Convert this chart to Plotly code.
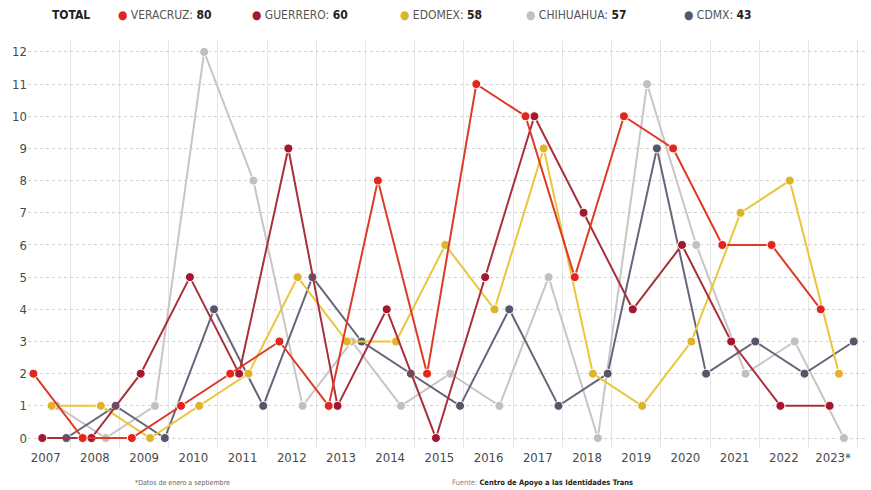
import plotly.graph_objects as go

years = list(range(2007, 2024))
year_labels = [str(y) for y in years[:-1]] + ["2023*"]

series_names = ["VERACRUZ", "GUERRERO", "EDOMEX", "CHIHUAHUA", "CDMX"]
veracruz = [2, 0, 0, 1, 2, 3, 1, 8, 2, 11, 10, 5, 10, 9, 6, 6, 4]
guerrero = [0, 0, 2, 5, 2, 9, 1, 4, 0, 5, 10, 7, 4, 6, 3, 1, 1]
edomex = [1, 1, 0, 1, 2, 5, 3, 3, 6, 4, 9, 2, 1, 3, 7, 8, 2]
chihuahua = [1, 0, 1, 12, 8, 1, 3, 1, 2, 1, 5, 0, 11, 6, 2, 3, 0]
cdmx = [0, 1, 0, 4, 1, 5, 3, 2, 1, 4, 1, 2, 9, 2, 3, 2, 3]

values = {"VERACRUZ": veracruz, "GUERRERO": guerrero, "EDOMEX": edomex,
          "CHIHUAHUA": chihuahua, "CDMX": cdmx}

# style: marker colour, line colour, horizontal offset within the year band
styles = {
    "VERACRUZ": dict(marker="#e3261c", line="#de3a26", off=-0.25),
    "GUERRERO": dict(marker="#a3172f", line="#a8303c", off=-0.07),
    "EDOMEX": dict(marker="#e0b42a", line="#e9c63c", off=0.12),
    "CHIHUAHUA": dict(marker="#c4bfbf", line="#c9c5c5", off=0.22),
    "CDMX": dict(marker="#56566a", line="#66667a", off=0.42),
}

draw_order = ["CHIHUAHUA", "CDMX", "EDOMEX", "GUERRERO", "VERACRUZ"]

fig = go.Figure()
for name in draw_order:
    st = styles[name]
    fig.add_trace(go.Scatter(
        x=[y + st["off"] for y in years], y=values[name],
        mode="lines+markers", name=name, showlegend=False,
        line=dict(color=st["line"], width=2),
        marker=dict(color=st["marker"], size=9, line=dict(color="white", width=1)),
    ))

font_family = "Liberation Sans Narrow, DejaVu Sans Condensed, Roboto, Arial, sans-serif"

ML, MR, MT, MB = 28, 3, 40, 42
W, H = 871, 490

fig.update_layout(
    width=W, height=H,
    margin=dict(l=ML, r=MR, t=MT, b=MB, autoexpand=False),
    plot_bgcolor="white", paper_bgcolor="white",
    font=dict(family=font_family, color="#4a4a4a", size=13),
    xaxis=dict(
        range=[2006.64, 2023.71], automargin=False,
        tickmode="array", tickvals=years, ticktext=year_labels,
        showgrid=False, zeroline=False, showline=False, ticks="",
        tickfont=dict(size=13, color="#4a4a4a"),
        minor=dict(tickmode="array", tickvals=[y + 0.5 for y in years],
                   showgrid=True, gridcolor="#e6e6e6", gridwidth=1, ticks=""),
    ),
    yaxis=dict(
        range=[-0.31, 12.37], tickmode="linear", tick0=0, dtick=1, automargin=False,
        showgrid=True, gridcolor="#d2d2d2", griddash="dot", gridwidth=1,
        zeroline=False, showline=False, ticks="",
        tickfont=dict(size=13, color="#4a4a4a"),
    ),
)

pw, ph = W - ML - MR, H - MT - MB


def px_to_paper(x, y_from_top):
    return (x - ML) / pw, ((H - y_from_top) - MB) / ph


annotations = []
x0, y0 = px_to_paper(50, 15)
annotations.append(dict(x=x0, y=y0, xref="paper", yref="paper", text="<b>TOTAL</b>",
                        showarrow=False, xanchor="left", yanchor="middle",
                        font=dict(size=12, color="#222222")))
legend_x = {"VERACRUZ": 116, "GUERRERO": 250, "EDOMEX": 398, "CHIHUAHUA": 524, "CDMX": 682}
for name in series_names:
    total = sum(values[name])
    lx, ly = px_to_paper(legend_x[name], 15)
    annotations.append(dict(
        x=lx, y=ly, xref="paper", yref="paper",
        text=f"<span style='color:{styles[name]['marker']}'>●</span> {name}: <b style='color:#222'>{total}</b>",
        showarrow=False, xanchor="left", yanchor="middle",
        font=dict(size=12, color="#555555")))
nx, ny = px_to_paper(133, 483)
annotations.append(dict(x=nx, y=ny, xref="paper", yref="paper",
                        text="*Datos de enero a septiembre", showarrow=False,
                        xanchor="left", yanchor="middle", font=dict(size=7, color="#666666")))
fx, fy = px_to_paper(450, 483)
annotations.append(dict(x=fx, y=fy, xref="paper", yref="paper",
                        text="Fuente: <b style='color:#222'>Centro de Apoyo a las Identidades Trans</b>",
                        showarrow=False, xanchor="left", yanchor="middle",
                        font=dict(size=7.5, color="#888888")))
fig.update_layout(annotations=annotations)

fig.write_html("out.html", config={"displayModeBar": False},
               post_script="document.body.style.margin='0';")
